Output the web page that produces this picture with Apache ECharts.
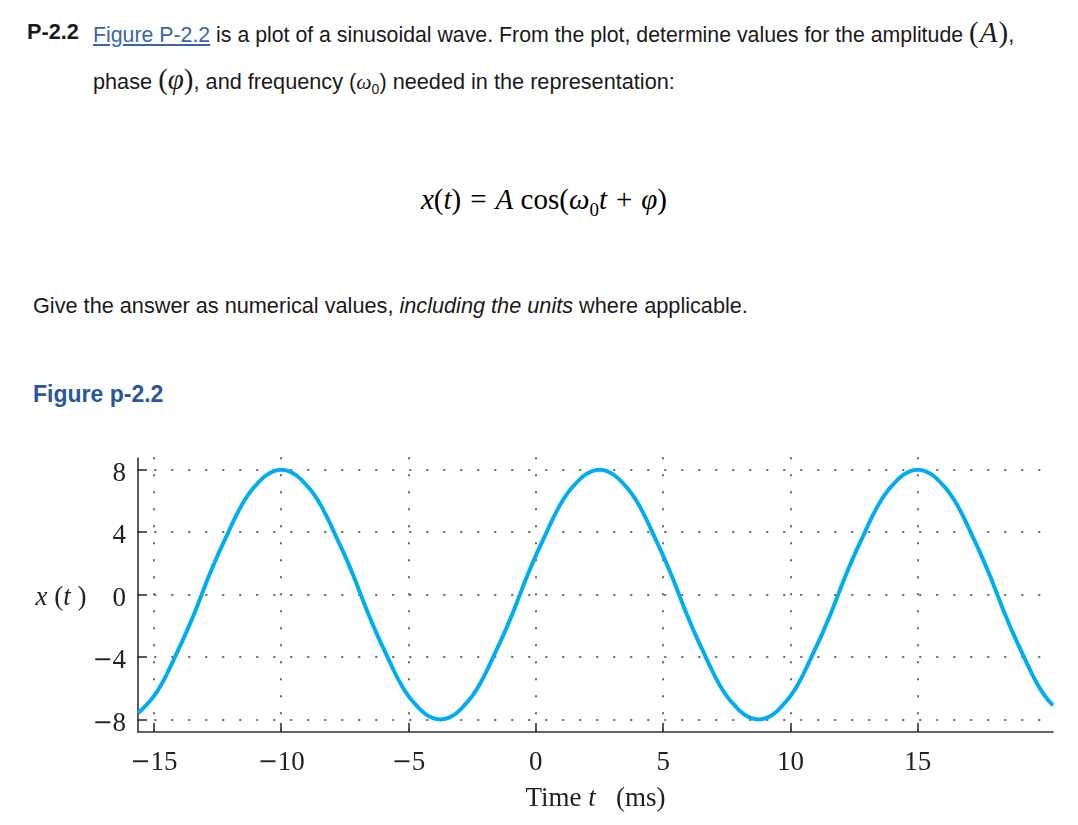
<!DOCTYPE html>
<html>
<head>
<meta charset="utf-8">
<script src="https://cdn.jsdelivr.net/npm/echarts@6/dist/echarts.min.js"></script>
<style>
  html, body { margin: 0; padding: 0; background: #fff; }
  #page { position: relative; width: 1078px; height: 825px; overflow: hidden;
          font-family: "Liberation Sans", Arial, sans-serif; color: #1a1a1a; }
  .abs { position: absolute; white-space: nowrap; }
  .txt { font-size: 21.7px; line-height: 44px; }
  .m { font-family: "Liberation Serif", serif; }
  .mi { font-family: "Liberation Serif", serif; font-style: italic; }
  .big { font-size: 29px; }
  .op { display: inline-block; margin: 0 9px; }
  a { color: #3a66a8; text-decoration: underline; }
  #chart { position: absolute; left: 0; top: 430px; width: 1078px; height: 395px; }
</style>
</head>
<body>
<div id="page">
  <div class="abs txt" style="left:27px; top:10px; font-weight:bold;">P-2.2</div>
  <div class="abs txt" style="left:93px; top:10px;">
    <span style="font-size:21.3px"><a>Figure P-2.2</a> is a plot of a sinusoidal wave. From the plot, determine values for the amplitude</span> <span class="m big">(</span><span class="mi big" style="margin:0 1px">A</span><span class="m big">)</span>,<br>
    phase <span class="m big">(</span><span class="mi big">φ</span><span class="m big">)</span>, and frequency (<span class="mi">ω</span><sub style="font-size:14px">0</sub>) needed in the representation:
  </div>
  <div class="abs" style="left:0; width:1078px; top:181px; text-align:center; font-size:29px; line-height:36px; padding-left:10px; box-sizing:border-box; color:#000;">
    <span class="mi">x</span><span class="m">(</span><span class="mi">t</span><span class="m">)</span><span class="m op">=</span><span class="mi">A</span><span class="m"> cos(</span><span class="mi">ω</span><sub class="m" style="font-size:19px">0</sub><span class="mi">t</span><span class="m op">+</span><span class="mi">φ</span><span class="m">)</span>
  </div>
  <div class="abs txt" style="left:33px; top:284px;">Give the answer as numerical values, <i>including the units</i> where applicable.</div>
  <div class="abs" style="left:33px; top:378px; font-size:23px; line-height:32px; font-weight:bold; color:#2b5699;">Figure p-2.2</div>
  <div id="chart"></div>
</div>
<script>
// samples: time (ms) and x(t)
const times = [
  -15.625, -15.3125, -15, -14.6875, -14.375, -14.0625, -13.75, -13.4375, -13.125, -12.8125,
  -12.5, -12.1875, -11.875, -11.5625, -11.25, -10.9375, -10.625, -10.3125,
  -10, -9.6875, -9.375, -9.0625, -8.75, -8.4375, -8.125, -7.8125, -7.5, -7.1875,
  -6.875, -6.5625, -6.25, -5.9375, -5.625, -5.3125, -5, -4.6875, -4.375, -4.0625,
  -3.75, -3.4375, -3.125, -2.8125, -2.5, -2.1875, -1.875, -1.5625, -1.25, -0.9375,
  -0.625, -0.3125, 0, 0.3125, 0.625, 0.9375, 1.25, 1.5625, 1.875, 2.1875,
  2.5, 2.8125, 3.125, 3.4375, 3.75, 4.0625, 4.375, 4.6875, 5, 5.3125,
  5.625, 5.9375, 6.25, 6.5625, 6.875, 7.1875, 7.5, 7.8125, 8.125, 8.4375,
  8.75, 9.0625, 9.375, 9.6875, 10, 10.3125, 10.625, 10.9375, 11.25, 11.5625,
  11.875, 12.1875, 12.5, 12.8125, 13.125, 13.4375, 13.75, 14.0625, 14.375, 14.6875,
  15, 15.3125, 15.625, 15.9375, 16.25, 16.5625, 16.875, 17.1875, 17.5, 17.8125,
  18.125, 18.4375, 18.75, 19.0625, 19.375, 19.6875, 20, 20.3125];
const xValues = [
  -7.6, -7.1, -6.5, -5.7, -4.7, -3.6, -2.5, -1.3, 0, 1.3,
  2.5, 3.6, 4.7, 5.7, 6.5, 7.1, 7.6, 7.9,
  8, 7.9, 7.6, 7.1, 6.5, 5.7, 4.7, 3.6, 2.5, 1.3,
  0, -1.3, -2.5, -3.6, -4.7, -5.7, -6.5, -7.1, -7.6, -7.9,
  -8, -7.9, -7.6, -7.1, -6.5, -5.7, -4.7, -3.6, -2.5, -1.3,
  0, 1.3, 2.5, 3.6, 4.7, 5.7, 6.5, 7.1, 7.6, 7.9,
  8, 7.9, 7.6, 7.1, 6.5, 5.7, 4.7, 3.6, 2.5, 1.3,
  0, -1.3, -2.5, -3.6, -4.7, -5.7, -6.5, -7.1, -7.6, -7.9,
  -8, -7.9, -7.6, -7.1, -6.5, -5.7, -4.7, -3.6, -2.5, -1.3,
  0, 1.3, 2.5, 3.6, 4.7, 5.7, 6.5, 7.1, 7.6, 7.9,
  8, 7.9, 7.6, 7.1, 6.5, 5.7, 4.7, 3.6, 2.5, 1.3,
  0, -1.3, -2.5, -3.6, -4.7, -5.7, -6.5, -7.1];
const xTicks = [-15, -10, -5, 0, 5, 10, 15];
const yTicks = [-8, -4, 0, 4, 8];

const serif = '"Liberation Serif", "Times New Roman", serif';
const ink = '#222';
// wide math minus like the original's labels
const tickLabel = v => v < 0 ? '{m|\u2212}' + Math.abs(v) : String(v);
const labelRich = { m: { fontFamily: '"DejaVu Serif", serif', fontSize: 24, color: ink } };
const nameRich = {
  n: { fontFamily: serif, fontSize: 27, color: ink },
  i: { fontFamily: serif, fontSize: 27, fontStyle: 'italic', color: ink },
};
const dots = { color: '#666', width: 2, type: [0.5, 16.5], cap: 'round' };
const axisLine = { show: true, onZero: false, lineStyle: { color: '#333', width: 1.6 } };
const tickStyle = { color: '#333', width: 1.6 };

const chart = echarts.init(document.getElementById('chart'), null, { renderer: 'canvas' });
chart.setOption({
  animation: false,
  grid: { left: 138, right: 25, top: 28, bottom: 93 },
  xAxis: {
    type: 'value',
    min: -15.625, max: 20.3125,
    axisLine,
    axisTick: { show: true, inside: true, length: 9, customValues: xTicks, lineStyle: tickStyle },
    axisLabel: { customValues: xTicks, formatter: tickLabel, margin: 17,
                 fontFamily: serif, fontSize: 27, color: ink, rich: labelRich },
    splitLine: { show: true, lineStyle: dots },
    name: '{n|Time }{i|t}{n|   (ms)}',
    nameLocation: 'middle', nameGap: 53,
    nameTextStyle: { rich: nameRich },
  },
  yAxis: {
    type: 'value',
    min: -8.8, max: 8.75,
    axisLine,
    axisTick: { show: true, inside: true, length: 9, customValues: yTicks, lineStyle: tickStyle },
    axisLabel: { customValues: yTicks, formatter: tickLabel, margin: 12, padding: [8, 0, 0, 0],
                 fontFamily: serif, fontSize: 27, color: ink, rich: labelRich },
    splitLine: { show: true, lineStyle: dots },
    name: '{i|x}{n| (}{i|t}{n| )}',
    nameLocation: 'middle', nameRotate: 0, nameGap: 51,
    nameTextStyle: { rich: nameRich, padding: [6, 0, 0, 0] },
  },
  series: [{
    type: 'line',
    data: times.map((t, i) => [t, xValues[i]]),
    smooth: true,
    symbol: 'none',
    lineStyle: { color: '#00aeef', width: 4 },
    z: 5,
  }],
});
</script>
</body>
</html>
